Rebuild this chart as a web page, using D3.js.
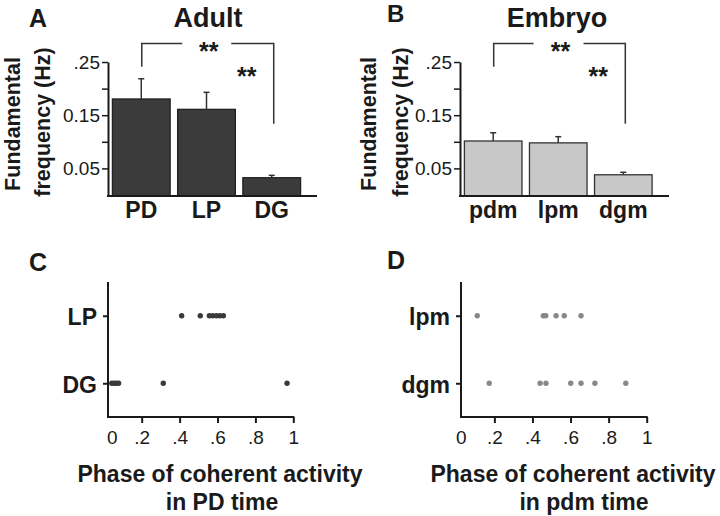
<!DOCTYPE html>
<html><head><meta charset="utf-8">
<script src="https://cdn.jsdelivr.net/npm/d3@7"></script>
<style>
html,body{margin:0;padding:0;background:#fff;}
svg{display:block;font-family:"Liberation Sans",Arial,Helvetica,sans-serif;}
</style></head>
<body><svg id="c" width="720" height="516"></svg>
<script>
// ---------- data ----------
const adultCats = ["PD", "LP", "DG"];
const adultMeans = [0.1805, 0.161, 0.0325];
const adultErr = [0.038, 0.032, 0.0045];
const embryoCats = ["pdm", "lpm", "dgm"];
const embryoMeans = [0.1015, 0.098, 0.038];
const embryoErr = [0.0155, 0.0116, 0.0047];
const freqTickValues = [0.05, 0.10, 0.15, 0.20, 0.25];
const freqTickLabels = ["0.05", "", "0.15", "", ".25"];
const phaseTickValues = [0, 0.2, 0.4, 0.6, 0.8, 1];
const phaseTickLabels = ["0", ".2", ".4", ".6", ".8", "1"];
const adultRows = ["LP", "DG"];
const adultLP = [0.411, 0.509, 0.557, 0.575, 0.594, 0.612, 0.631];
const adultDG = [0.042, 0.054, 0.066, 0.078, 0.314, 0.967];
const embryoRows = ["lpm", "dgm"];
const embryoLpm = [0.110, 0.457, 0.470, 0.524, 0.567, 0.655];
const embryoDgm = [0.173, 0.440, 0.471, 0.601, 0.655, 0.728, 0.890];
// significance brackets (in data units of frequency)
const bracketTop = 0.285, bracketLeftEnd = 0.241, bracketRightEnd = 0.134;
const sigLabel = "**";

const svg = d3.select("#c");
const ink = "#1a1a1a";

function barPanel(cats, means, errs, x0, x1, axisEnd, fill, stroke, title, titleX, gapHalf, labelX, labelGap) {
  const y = d3.scaleLinear().domain([0, 0.25]).range([195, 62]);
  const x = d3.scaleBand().domain(cats).range([x0 + 0.5, x1]).paddingInner(0.115).paddingOuter(0.06);
  const g = svg.append("g");
  // bars
  g.selectAll("rect.bar").data(cats).join("rect")
    .attr("x", d => x(d)).attr("width", x.bandwidth())
    .attr("y", (d, i) => y(means[i])).attr("height", (d, i) => y(0) - y(means[i]) + 1)
    .attr("fill", fill).attr("stroke", stroke).attr("stroke-width", 1.3);
  // error bars
  const eb = g.selectAll("g.err").data(cats).join("g");
  eb.append("line")
    .attr("x1", d => x(d) + x.bandwidth() / 2).attr("x2", d => x(d) + x.bandwidth() / 2)
    .attr("y1", (d, i) => y(means[i])).attr("y2", (d, i) => y(means[i] + errs[i]))
    .attr("stroke", "#333").attr("stroke-width", 1.5);
  eb.append("line")
    .attr("x1", d => x(d) + x.bandwidth() / 2 - 3).attr("x2", d => x(d) + x.bandwidth() / 2 + 3)
    .attr("y1", (d, i) => y(means[i] + errs[i])).attr("y2", (d, i) => y(means[i] + errs[i]))
    .attr("stroke", "#333").attr("stroke-width", 1.5);
  // y axis
  const ya = g.append("g").attr("transform", `translate(${x0},0)`)
    .call(d3.axisLeft(y).tickValues(freqTickValues).tickSize(6).tickSizeOuter(0).tickPadding(2)
      .tickFormat((d, i) => freqTickLabels[i]));
  ya.select(".domain").attr("stroke", ink).attr("stroke-width", 2);
  ya.selectAll(".tick line").attr("stroke", ink).attr("stroke-width", 1.5);
  ya.selectAll("text").attr("font-size", 19).attr("fill", ink).attr("font-family", "Liberation Sans, Arial, sans-serif");
  // baseline
  g.append("line").attr("x1", x0 - 1).attr("x2", axisEnd).attr("y1", 196).attr("y2", 196)
    .attr("stroke", ink).attr("stroke-width", 2);
  // category labels
  const xa = g.append("g").attr("transform", "translate(0,196)")
    .call(d3.axisBottom(x).tickSize(0).tickPadding(6));
  xa.select(".domain").remove();
  xa.selectAll("text").attr("font-size", 23).attr("font-weight", "bold").attr("fill", ink)
    .attr("font-family", "Liberation Sans, Arial, sans-serif");
  // title
  g.append("text").attr("x", titleX).attr("y", 27).attr("text-anchor", "middle")
    .attr("font-size", 27).attr("font-weight", "bold").attr("fill", ink).text(title);
  // brackets
  const lx = x(cats[0]) + x.bandwidth() / 2 + 0.5;
  const rx = x(cats[2]) + x.bandwidth() / 2 + 2;
  const gapC = (lx + rx) / 2 - 1;
  const bs = g.append("g").attr("stroke", "#333").attr("stroke-width", 1.5).attr("fill", "none");
  bs.append("path").attr("d", `M${lx},${y(bracketLeftEnd)}V${y(bracketTop)}H${gapC - gapHalf}`);
  bs.append("path").attr("d", `M${gapC + gapHalf},${y(bracketTop)}H${rx}V${y(bracketRightEnd)}`);
  g.append("text").attr("x", gapC + 2).attr("y", 59.5).attr("text-anchor", "middle")
    .attr("font-size", 25).attr("font-weight", "bold").attr("fill", ink).text(sigLabel);
  g.append("text").attr("x", rx - 27).attr("y", 84.5).attr("text-anchor", "middle")
    .attr("font-size", 25).attr("font-weight", "bold").attr("fill", ink).text(sigLabel);
  // y label
  const yl = g.append("text").attr("transform", `translate(${labelX},124) rotate(-90)`)
    .attr("text-anchor", "middle").attr("font-size", 21.5).attr("font-weight", "bold").attr("fill", ink);
  yl.append("tspan").attr("x", 0).attr("y", 0).text("Fundamental");
  yl.append("tspan").attr("x", 2).attr("y", labelGap).text("frequency (Hz)");
}

barPanel(adultCats, adultMeans, adultErr, 108, 304.5, 317, "#3b3b3b", "#222", "Adult", 208, 24.5, 20, 30);
barPanel(embryoCats, embryoMeans, embryoErr, 460, 656, 669, "#c8c8c8", "#333", "Embryo", 557, 25, 376, 32);

function dotPanel(rows, series, axisX, x0, x1, color, zeroShift, line1, line1X, line2, line2X) {
  const x = d3.scaleLinear().domain([0, 1]).range([x0, x1]);
  const y = d3.scalePoint().domain(rows).range([282, 417]).padding(0.5);
  const g = svg.append("g");
  // y axis
  const ya = g.append("g").attr("transform", `translate(${axisX},0)`)
    .call(d3.axisLeft(y).tickSize(5).tickSizeOuter(0).tickPadding(6));
  ya.select(".domain").attr("d", "M0,282V417").attr("stroke", ink).attr("stroke-width", 2);
  ya.selectAll(".tick line").attr("stroke", ink).attr("stroke-width", 2);
  ya.selectAll("text").attr("font-size", 23).attr("font-weight", "bold").attr("fill", ink)
    .attr("dy", "0.38em").attr("font-family", "Liberation Sans, Arial, sans-serif");
  // x axis
  const xa = g.append("g").attr("transform", "translate(0,417)")
    .call(d3.axisBottom(x).tickValues(phaseTickValues).tickSize(6).tickPadding(7.5)
      .tickFormat((d, i) => phaseTickLabels[i]));
  xa.select(".domain").remove();
  xa.selectAll(".tick line").attr("stroke", ink).attr("stroke-width", 2)
    .attr("display", d => d === 0 ? "none" : null);
  xa.selectAll("text").attr("font-size", 19).attr("fill", ink)
    .attr("font-family", "Liberation Sans, Arial, sans-serif")
    .attr("dx", d => d === 0 ? zeroShift : 0);
  g.append("line").attr("x1", axisX - 1).attr("x2", x1 + 1).attr("y1", 417).attr("y2", 417)
    .attr("stroke", ink).attr("stroke-width", 2);
  // dots
  rows.forEach((r, k) => {
    g.selectAll(null).data(series[k]).join("circle")
      .attr("cx", d => x(d)).attr("cy", y(r)).attr("r", 2.7).attr("fill", color);
  });
  g.append("text").attr("x", line1X).attr("y", 482).attr("text-anchor", "middle")
    .attr("font-size", 23).attr("font-weight", "bold").attr("fill", ink).text(line1);
  g.append("text").attr("x", line2X).attr("y", 510).attr("text-anchor", "middle")
    .attr("font-size", 23).attr("font-weight", "bold").attr("fill", ink).text(line2);
}

dotPanel(adultRows, [adultLP, adultDG], 108, 103.8, 293.3, "#3a3a3a", 8,
  "Phase of coherent activity", 220, "in PD time", 222);
dotPanel(embryoRows, [embryoLpm, embryoDgm], 461, 456.3, 646.7, "#888", 4.5,
  "Phase of coherent activity", 573, "in pdm time", 584);

// panel letters
const letters = [["A", 29, 27, 25], ["B", 387, 22, 24], ["C", 29, 271, 25], ["D", 387, 269, 25]];
svg.selectAll("text.letter").data(letters).join("text").attr("class", "letter")
  .attr("x", d => d[1]).attr("y", d => d[2]).attr("font-size", d => d[3]).attr("font-weight", "bold")
  .attr("fill", ink).text(d => d[0]);
</script></body></html>
